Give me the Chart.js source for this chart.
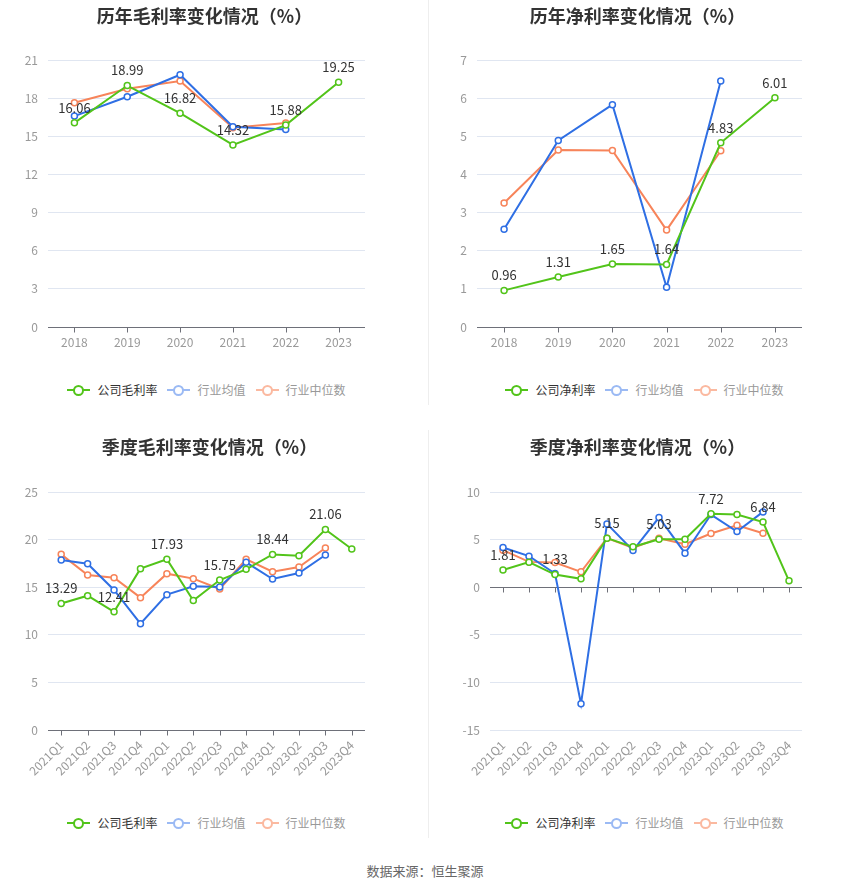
<!DOCTYPE html>
<html>
<head>
<meta charset="utf-8">
<script src="https://cdn.jsdelivr.net/npm/chart.js@4.4.0/dist/chart.umd.min.js"></script>
<style>
  body { margin: 0; background: #fff; font-family: "Noto Sans CJK SC", "Noto Sans", sans-serif; }
  #page { position: relative; width: 850px; height: 890px; overflow: hidden; }
  canvas { position: absolute; }
  .title { position: absolute; width: 425px; text-align: center; font-size: 18px; font-weight: bold; color: #333; }
  .legend { position: absolute; width: 425px; display: flex; justify-content: center; font-size: 12px; }
  .legend .item { display: flex; align-items: center; margin: 0 5px; }
  .legend .sym { position: relative; width: 23px; height: 14px; margin-right: 7px; }
  .legend .sym::before { content: ""; position: absolute; left: 0; right: 0; top: 6px; height: 2px; background: var(--c); }
  .legend .sym::after { content: ""; position: absolute; left: 6px; top: 2px; width: 7px; height: 7px; border: 2px solid var(--c); border-radius: 50%; background: #fff; }
  .divider { position: absolute; left: 428px; width: 1px; background: #eee; }
  #source { position: absolute; top: 861px; width: 850px; text-align: center; font-size: 13px; color: #666; }
</style>
</head>
<body>
<div id="page">
  <div class="divider" style="top:0;height:405px"></div>
  <div class="divider" style="top:430px;height:408px"></div>
  <canvas id="c1" width="425" height="360" style="left:0;top:0"></canvas>
  <canvas id="c2" width="425" height="360" style="left:425px;top:0"></canvas>
  <canvas id="c3" width="425" height="360" style="left:0;top:430px"></canvas>
  <canvas id="c4" width="425" height="360" style="left:425px;top:430px"></canvas>
  <div class="title" style="left:-8px;top:2px">历年毛利率变化情况（%）</div>
  <div class="title" style="left:425px;top:2px">历年净利率变化情况（%）</div>
  <div class="title" style="left:-3px;top:433px">季度毛利率变化情况（%）</div>
  <div class="title" style="left:425px;top:433px">季度净利率变化情况（%）</div>
  <div class="legend" id="lg1" style="left:-6px;top:381px"></div>
  <div class="legend" id="lg2" style="left:432px;top:381px"></div>
  <div class="legend" id="lg3" style="left:-6px;top:814px"></div>
  <div class="legend" id="lg4" style="left:432px;top:814px"></div>
  <div id="source">数据来源：恒生聚源</div>
</div>
<script>
// ---- data ----
const years = ["2018", "2019", "2020", "2021", "2022", "2023"];
const yearGross = [16.06, 18.99, 16.82, 14.32, 15.88, 19.25];
const yearGrossAvg = [16.59, 18.11, 19.84, 15.75, 15.54];
const yearGrossMed = [17.64, 18.74, 19.34, 15.67, 16.04];
const yearNet = [0.96, 1.31, 1.65, 1.64, 4.83, 6.01];
const yearNetAvg = [2.56, 4.89, 5.83, 1.04, 6.45];
const yearNetMed = [3.25, 4.64, 4.63, 2.54, 4.62];

const quarters = ["2021Q1", "2021Q2", "2021Q3", "2021Q4", "2022Q1", "2022Q2",
                  "2022Q3", "2022Q4", "2023Q1", "2023Q2", "2023Q3", "2023Q4"];
const qGross = [13.29, 14.11, 12.41, 16.95, 17.93, 13.59, 15.75, 16.88, 18.44, 18.31, 21.06, 19.01];
const qGrossAvg = [17.86, 17.47, 14.71, 11.17, 14.22, 15.09, 15.02, 17.61, 15.86, 16.49, 18.38];
const qGrossMed = [18.45, 16.28, 16.0, 13.9, 16.42, 15.9, 14.81, 17.93, 16.63, 17.12, 19.12];
const qNet = [1.81, 2.63, 1.33, 0.88, 5.15, 4.24, 5.03, 5.04, 7.72, 7.63, 6.84, 0.67];
const qNetAvg = [4.17, 3.26, 1.44, -12.25, 6.65, 3.85, 7.32, 3.57, 7.63, 5.85, 7.91];
const qNetMed = [3.89, 2.66, 2.59, 1.61, 5.15, 4.13, 5.15, 4.52, 5.64, 6.51, 5.67];

const yearGrossTicks = [0, 3, 6, 9, 12, 15, 18, 21];
const yearNetTicks = [0, 1, 2, 3, 4, 5, 6, 7];
const qGrossTicks = [0, 5, 10, 15, 20, 25];
const qNetTicks = [-15, -10, -5, 0, 5, 10];

const GREEN = "#52c41a", BLUE = "#2f6fe4", ORANGE = "#f7845a";
const FONT = "'Noto Sans CJK SC', 'Noto Sans', sans-serif";

// axis line + tick marks drawn at value 0
const zeroAxis = {
  id: "zeroAxis",
  beforeDatasetsDraw(chart) {
    const { ctx, chartArea, scales: { x, y } } = chart;
    const py = Math.round(y.getPixelForValue(0)) + 0.5;
    ctx.save();
    ctx.strokeStyle = "#6e7079";
    ctx.lineWidth = 1;
    ctx.beginPath();
    ctx.moveTo(chartArea.left, py);
    ctx.lineTo(chartArea.right, py);
    x.ticks.forEach((t, i) => {
      const px = Math.round(x.getPixelForValue(i)) + 0.5;
      ctx.moveTo(px, py);
      ctx.lineTo(px, py + 5);
    });
    ctx.stroke();
    ctx.restore();
  }
};

// value labels above the company series
const valueLabels = {
  id: "valueLabels",
  afterDatasetsDraw(chart, args, opts) {
    const { ctx } = chart;
    const meta = chart.getDatasetMeta(0);
    const data = chart.data.datasets[0].data;
    ctx.save();
    ctx.font = "13px " + FONT;
    ctx.fillStyle = "#333";
    ctx.textAlign = "center";
    ctx.textBaseline = "middle";
    meta.data.forEach((pt, i) => {
      if (i % opts.every !== 0) return;
      ctx.fillText(data[i].toFixed(2), pt.x, pt.y - 15);
    });
    ctx.restore();
  }
};

function series(label, data, color) {
  return {
    label, data,
    borderColor: color,
    backgroundColor: "#fff",
    borderWidth: 2,
    pointRadius: 3,
    pointBorderWidth: 1.5,
    pointBackgroundColor: "#fff",
    pointBorderColor: color,
    tension: 0
  };
}

function makeChart(id, cfg) {
  const ticks = cfg.ticks;
  return new Chart(document.getElementById(id), {
    type: "line",
    data: {
      labels: cfg.labels,
      datasets: [
        series(cfg.names[0], cfg.company, GREEN),
        series("行业均值", cfg.avg, BLUE),
        series("行业中位数", cfg.med, ORANGE)
      ]
    },
    options: {
      responsive: false,
      animation: false,
      layout: { padding: { top: cfg.top, right: cfg.right, left: 0, bottom: 0 } },
      plugins: {
        legend: { display: false },
        tooltip: { enabled: false },
        valueLabels: { every: cfg.every }
      },
      scales: {
        x: {
          offset: true,
          grid: { display: false, drawTicks: false },
          border: { display: false },
          ticks: {
            color: "#999", font: { size: 12, family: FONT }, padding: 8,
            autoSkip: false,
            maxRotation: cfg.rot, minRotation: cfg.rot
          },
          afterFit: s => { s.height = cfg.xh; }
        },
        y: {
          min: ticks[0], max: ticks[ticks.length - 1],
          afterBuildTicks: s => { s.ticks = ticks.map(v => ({ value: v })); },
          grid: { color: "#e0e6f1", drawTicks: false },
          border: { display: false },
          ticks: { color: "#999", font: { size: 12, family: FONT }, padding: 10 },
          afterFit: s => { s.width = cfg.yw; }
        }
      }
    },
    plugins: [zeroAxis, valueLabels]
  });
}

makeChart("c1", { labels: years, names: ["公司毛利率"], company: yearGross, avg: yearGrossAvg, med: yearGrossMed,
  ticks: yearGrossTicks, top: 60, right: 60, yw: 48, xh: 33, rot: 0, every: 1 });
makeChart("c2", { labels: years, names: ["公司净利率"], company: yearNet, avg: yearNetAvg, med: yearNetMed,
  ticks: yearNetTicks, top: 60, right: 48, yw: 52, xh: 33, rot: 0, every: 1 });
makeChart("c3", { labels: quarters, names: ["公司毛利率"], company: qGross, avg: qGrossAvg, med: qGrossMed,
  ticks: qGrossTicks, top: 62, right: 60, yw: 48, xh: 60, rot: 45, every: 2 });
makeChart("c4", { labels: quarters, names: ["公司净利率"], company: qNet, avg: qNetAvg, med: qNetMed,
  ticks: qNetTicks, top: 62, right: 48, yw: 65, xh: 60, rot: 45, every: 2 });

// legends
function buildLegend(id, first) {
  const items = [
    { name: first, c: GREEN, text: "#333" },
    { name: "行业均值", c: "#9bbaf4", text: "#999" },
    { name: "行业中位数", c: "#fbb9a0", text: "#999" }
  ];
  const el = document.getElementById(id);
  items.forEach(it => {
    const d = document.createElement("div");
    d.className = "item";
    d.innerHTML = `<span class="sym" style="--c:${it.c}"></span><span style="color:${it.text}">${it.name}</span>`;
    el.appendChild(d);
  });
}
buildLegend("lg1", "公司毛利率");
buildLegend("lg2", "公司净利率");
buildLegend("lg3", "公司毛利率");
buildLegend("lg4", "公司净利率");
</script>
</body>
</html>
